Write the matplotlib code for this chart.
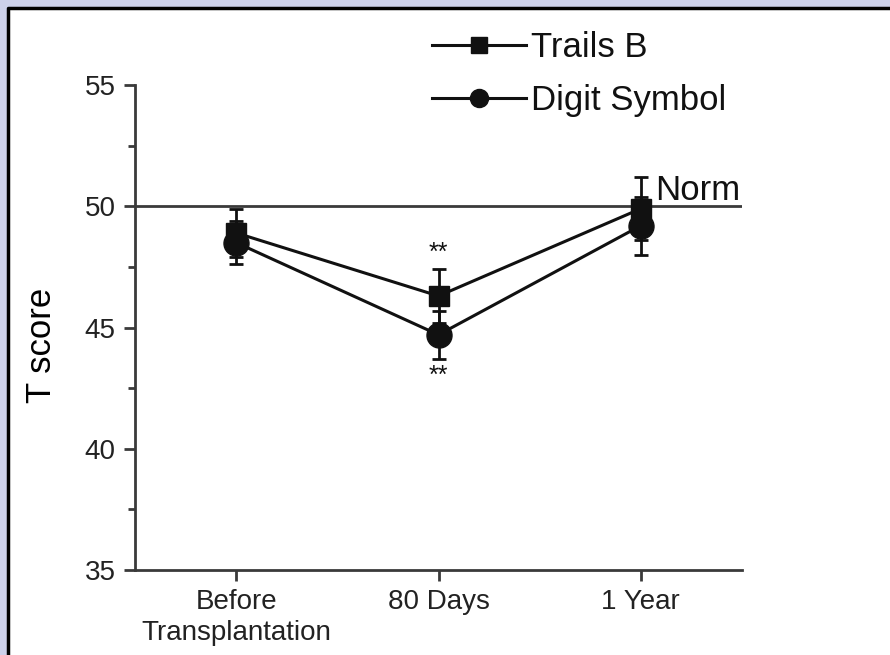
import matplotlib
matplotlib.use("Agg")
import matplotlib.pyplot as plt
from matplotlib.lines import Line2D
from matplotlib.patches import Rectangle
from matplotlib.ticker import MultipleLocator

# data
timepoints = ["Before\nTransplantation", "80 Days", "1 Year"]
trails_b = [48.9, 46.3, 49.9]
trails_b_err = [1.0, 1.1, 1.3]
digit_symbol = [48.5, 44.7, 49.2]
digit_symbol_err = [0.9, 1.0, 1.2]
norm_value = 50

BG = "#cdd1ea"
INK = "#111111"
AXIS = "#3a3a3a"

plt.rcParams["font.family"] = ["Liberation Sans", "DejaVu Sans"]
plt.rcParams["text.color"] = INK

fig = plt.figure(figsize=(8.9, 6.55), dpi=100, facecolor=BG)
# white panel, with a black rule on its left and top edges
px, py = 8 / 890, 1 - 8 / 655
fig.patches.append(Rectangle((px, 0), 1 - px, py, transform=fig.transFigure,
                             facecolor="white", edgecolor="none", zorder=-10))
fig.add_artist(Line2D([px, px, 1], [0, py, py], transform=fig.transFigure,
                      color="black", linewidth=2.5, zorder=-9))

ax = fig.add_axes([135 / 890, 1 - 570 / 655, (742 - 135) / 890, (570 - 85) / 655])
ax.set_facecolor("none")

x = list(range(len(timepoints)))
ax.axhline(norm_value, color=AXIS, linewidth=2, zorder=1)
ax.errorbar(x, trails_b, yerr=trails_b_err, color=INK, marker="s", markersize=15,
            linewidth=2.2, elinewidth=2, capsize=5, capthick=2, zorder=3)
ax.errorbar(x, digit_symbol, yerr=digit_symbol_err, color=INK, marker="o", markersize=18,
            linewidth=2.2, elinewidth=2, capsize=5, capthick=2, zorder=3)

# significance marks at 80 days
ax.text(1, trails_b[1] + trails_b_err[1] + 0.2, "**", ha="center", va="bottom", fontsize=18)
ax.text(1, digit_symbol[1] - digit_symbol_err[1] - 0.2, "**", ha="center", va="top", fontsize=18)
ax.text(2.07, norm_value - 0.02, "Norm", ha="left", va="bottom", fontsize=25)

ax.set_xlim(-0.5, 2.5)
ax.set_ylim(35, 55)
ax.set_xticks(x)
ax.set_xticklabels(timepoints, fontsize=20, linespacing=1.25)
ax.yaxis.set_major_locator(MultipleLocator(5))
ax.yaxis.set_minor_locator(MultipleLocator(2.5))
ax.tick_params(axis="both", which="major", length=8, width=2, colors=AXIS,
               labelcolor="#222222", labelsize=20, pad=6)
ax.tick_params(axis="y", which="minor", length=5, width=2, colors=AXIS)
ax.set_ylabel("T score", fontsize=25)
ax.yaxis.set_label_coords(-0.127, 0.464)

for side in ("top", "right"):
    ax.spines[side].set_visible(False)
for side in ("left", "bottom"):
    ax.spines[side].set_linewidth(2)
    ax.spines[side].set_color(AXIS)

handles = [
    Line2D([], [], color=INK, marker="s", markersize=11, linewidth=2.2, label="Trails B"),
    Line2D([], [], color=INK, marker="o", markersize=13, linewidth=2.2, label="Digit Symbol"),
]
fig.legend(handles=handles, loc="upper left", bbox_to_anchor=(432 / 890, 1 - 31 / 655),
           frameon=False, fontsize=25, handlelength=2.7, handletextpad=0.15,
           labelspacing=0.57, borderpad=0, borderaxespad=0)

fig.savefig("out.png", dpi=100, facecolor=BG)
